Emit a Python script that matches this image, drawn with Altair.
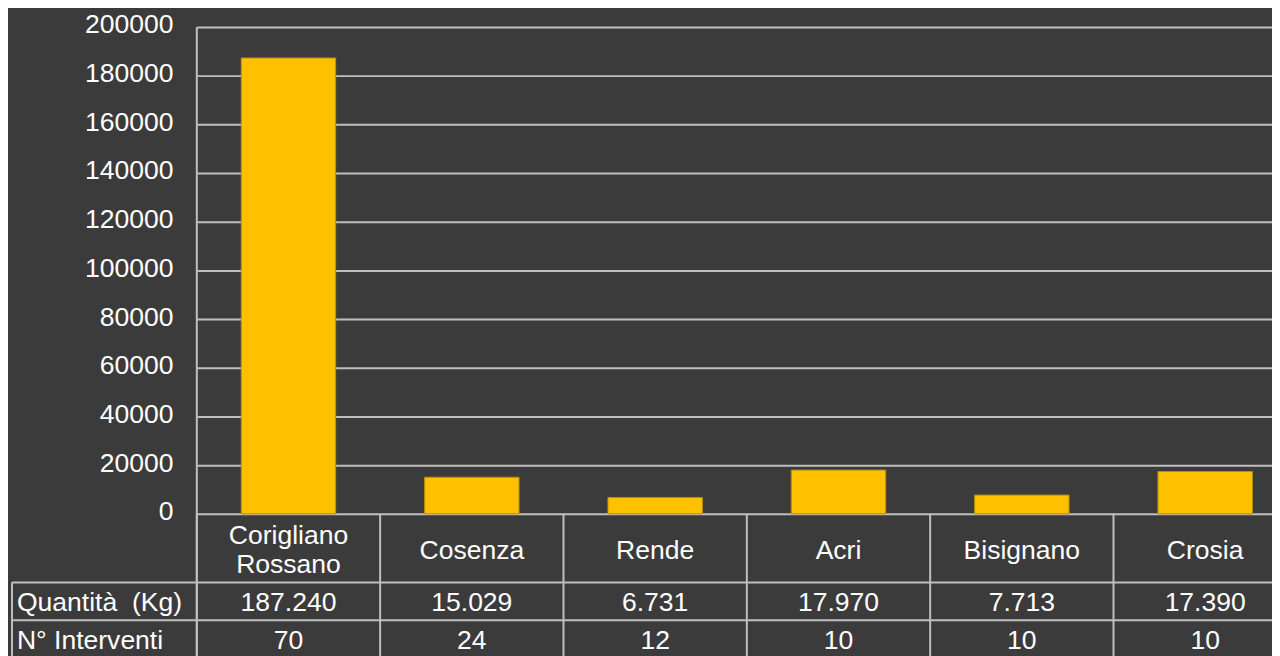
import altair as alt
import pandas as pd

# ---- data ----
comuni = ["Corigliano\nRossano", "Cosenza", "Rende", "Acri", "Bisignano", "Crosia"]
quantita = [187240, 15029, 6731, 17970, 7713, 17390]
quantita_label = ["187.240", "15.029", "6.731", "17.970", "7.713", "17.390"]
interventi = [70, 24, 12, 10, 10, 10]
row_labels = ["Quantità\u00a0 (Kg)", "N° Interventi"]
y_ticks = [0, 20000, 40000, 60000, 80000, 100000, 120000, 140000, 160000, 180000, 200000]

df = pd.DataFrame({
    "comune": comuni,
    "quantita": quantita,
    "qlabel": quantita_label,
    "interventi": [str(v) for v in interventi],
    "nlines": [c.count("\n") + 1 for c in comuni],
})
one = pd.DataFrame({"k": [0]})

BG = "#3b3b3b"
LINE = "#bfbfbf"
FONT = "Liberation Sans"
FS = 26.7

xenc = alt.X("comune:N", sort=None,
             scale=alt.Scale(range=[0, 1107], paddingInner=0, paddingOuter=0),
             axis=None)

bars = alt.Chart(df).mark_bar(
    color="#FFC000", stroke="#B8900A", strokeWidth=1,
    width=alt.RelativeBandSize(0.515)
).encode(
    x=xenc,
    y=alt.Y("quantita:Q",
            scale=alt.Scale(domain=[0, 200000], nice=False),
            axis=alt.Axis(values=y_ticks, format="d", title=None,
                          labelFontSize=FS, labelColor="#ffffff", labelFont=FONT,
                          tickSize=0, labelPadding=24, labelOffset=-2, domain=False,
                          grid=True, gridColor=LINE, gridWidth=2)),
)

# table column separators
vlines = alt.Chart(df).mark_rule(color=LINE, strokeWidth=2).encode(
    x=alt.X("comune:N", sort=None, bandPosition=0),
    y=alt.value(490), y2=alt.value(640),
)
yaxis_line = alt.Chart(one).mark_rule(color=LINE, strokeWidth=2).encode(
    x=alt.value(0), y=alt.value(0), y2=alt.value(640))
left_border = alt.Chart(one).mark_rule(color=LINE, strokeWidth=2).encode(
    x=alt.value(-186), y=alt.value(559), y2=alt.value(640))
h1 = alt.Chart(one).mark_rule(color=LINE, strokeWidth=2).encode(
    x=alt.value(-186), x2=alt.value(1110), y=alt.value(559))
h2 = alt.Chart(one).mark_rule(color=LINE, strokeWidth=2).encode(
    x=alt.value(-186), x2=alt.value(1110), y=alt.value(597))

txt = dict(font=FONT, fontSize=FS, color="#ffffff", baseline="middle")

cat_text = alt.Chart(df).transform_calculate(
    ypos="527 - (datum.nlines - 1) * 15"
).mark_text(lineBreak="\n", lineHeight=30, **txt).encode(
    x=alt.X("comune:N", sort=None),
    y=alt.Y("ypos:Q", scale=None),
    text="comune:N")
q_text = alt.Chart(df).mark_text(**txt).encode(
    x=alt.X("comune:N", sort=None), y=alt.value(580), text="qlabel:N")
n_text = alt.Chart(df).mark_text(**txt).encode(
    x=alt.X("comune:N", sort=None), y=alt.value(618), text="interventi:N")

rows = pd.DataFrame({"label": row_labels, "ypos": [580, 618]})
row_text = alt.Chart(rows).mark_text(align="left", **txt).encode(
    x=alt.value(-181), y=alt.Y("ypos:Q", scale=None), text="label:N")

chart = alt.layer(
    bars, vlines, yaxis_line, left_border, h1, h2, cat_text, q_text, n_text, row_text
).properties(
    width=1082, height=490,
    autosize=alt.AutoSizeParams(type="none"),
    padding={"left": 190, "top": 17, "right": 0, "bottom": 141},
    background=BG,
    usermeta={"embedOptions": {"defaultStyle": "html,body{background:#3b3b3b;overflow:hidden}"}},
).configure_view(stroke=None)

chart.save("out.html", embed_options={"renderer": "svg", "actions": False})
